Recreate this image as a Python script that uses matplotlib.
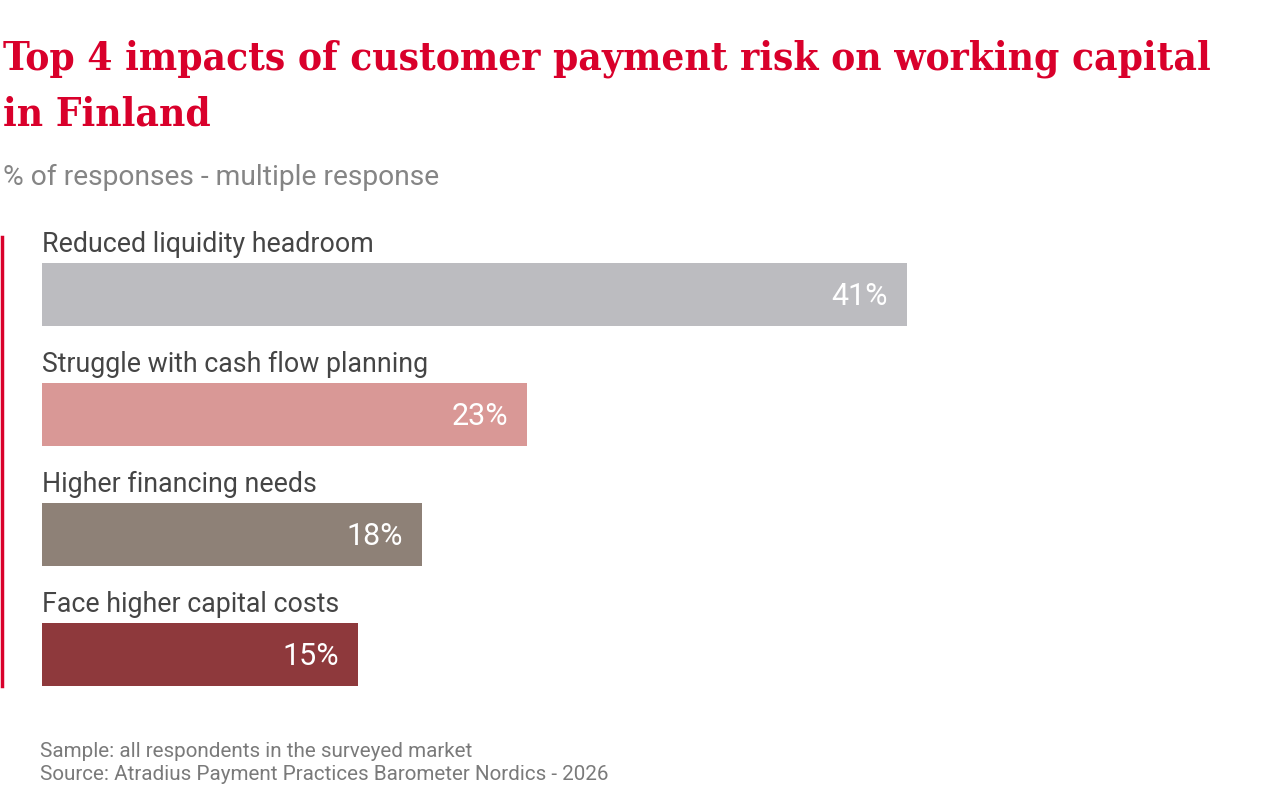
import matplotlib.pyplot as plt
from matplotlib.lines import Line2D

# Datos
categorias = ['Reduced liquidity headroom', 'Struggle with cash flow planning',
              'Higher financing needs', 'Face higher capital costs']
valores = [41, 23, 18, 15]
colores = ['#bcbcc0', '#d99896', '#8e8177', '#8e393c']

titulo = ['Top 4 impacts of customer payment risk on working capital', 'in Finland']
subtitulo = '% of responses - multiple response'
nota = 'Sample: all respondents in the surveyed market\nSource: Atradius Payment Practices Barometer Nordics - 2026'

plt.rc('font', family='Roboto')

fig = plt.figure(figsize=(12.8, 8), dpi=100)
ax = fig.add_axes([42 / 1280, 0.1, 1 - 42 / 1280, 0.675])

pos = list(range(len(categorias)))
ax.barh(pos, valores, height=0.525, color=colores, left=0)
ax.set_xlim(0, 41 * 1238 / 865)
ax.set_ylim(3.55, -0.95)
ax.axis('off')

for i, (c, v) in enumerate(zip(categorias, valores)):
    ax.text(0, i - 0.41, c, ha='left', va='center', fontsize=19.3, color='#454545')
    ax.text(v - 0.9, i + 0.02, f'{v}%', ha='right', va='center', fontsize=22, color='white')

# Titulo (dos lineas)
for k, linea in enumerate(titulo):
    fig.text(3 / 1280, 1 - (69 + 56 * k) / 800, linea, ha='left', va='baseline', fontsize=29,
             family='DejaVu Serif', stretch='condensed', weight='bold', color='#d9002b')

fig.text(3 / 1280, 1 - 177 / 800, subtitulo, ha='left', va='center', fontsize=20.3, color='#858585')
fig.text(40 / 1280, 1 - 763 / 800, nota, ha='left', va='center', fontsize=14.9, color='#7a7a7a',
         linespacing=1.25)

fig.add_artist(Line2D([2 / 1280, 2 / 1280], [1 - 237 / 800, 1 - 686 / 800], color='#d9002b', lw=2.5))

plt.savefig('out.png', dpi=100)
